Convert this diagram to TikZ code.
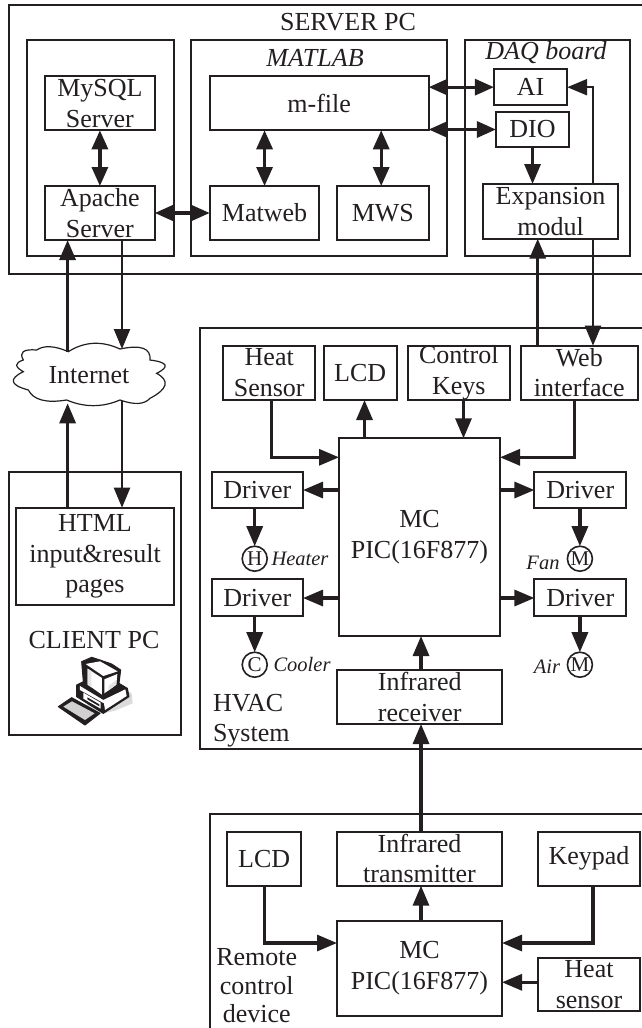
\documentclass[tikz,border=0pt]{standalone}
\usepackage{fontspec}
\setmainfont{Liberation Serif}
\usetikzlibrary{arrows.meta,calc}
\definecolor{ink}{HTML}{231F20}
\tikzset{
  frame/.style={draw=ink,line width=2pt},
  box/.style={draw=ink,line width=2pt,fill=white,rectangle,inner sep=0pt,outer sep=0pt,align=center,text=ink,
     font=\fontsize{26}{30.5}\selectfont},
  lbl/.style={inner sep=0pt,outer sep=0pt,align=center,text=ink,font=\fontsize{26}{30.5}\selectfont},
  ital/.style={inner sep=0pt,outer sep=0pt,text=ink,font=\fontsize{20.5}{24}\selectfont\itshape},
  ital2/.style={inner sep=0pt,outer sep=0pt,text=ink,font=\fontsize{26}{30}\selectfont\itshape},
  actor/.style={draw=ink,line width=1.6pt,fill=white,circle,inner sep=0pt,outer sep=0pt,minimum size=25pt,text=ink,
     font=\fontsize{21}{24}\selectfont},
  arr/.style={draw=ink,line width=3.2pt,-{Triangle[length=20pt,width=16pt]}},
  arrthin/.style={draw=ink,line width=2.4pt,-{Triangle[length=20pt,width=16pt]}},
  dbl/.style={draw=ink,line width=3.2pt,{Triangle[length=19pt,width=16pt]}-{Triangle[length=19pt,width=16pt]}},
}
\newcommand{\bx}[6]{%
  \pgfmathsetmacro{\bxw}{#4-#2}\pgfmathsetmacro{\bxh}{#5-#3}%
  \pgfmathsetmacro{\bxx}{(#4+#2)/2}\pgfmathsetmacro{\bxy}{(#5+#3)/2}%
  \node[box,minimum width=\bxw pt,minimum height=\bxh pt] (#1) at (\bxx,\bxy) {#6};}
\newcommand{\lobe}[3]{.. controls ($(#1)!0.6667!(#2)$) and ($(#3)!0.6667!(#2)$) .. (#3)}
\begin{document}
\begin{tikzpicture}[x=1pt,y=-1pt]
\useasboundingbox (0,0) rectangle (642,1028);
% frames
\draw[frame] (642,4.5) -- (8.6,4.5) -- (8.6,274) -- (642,274);
\draw[frame] (26.6,40) rectangle (173.6,256);
\draw[frame] (190.8,40) rectangle (446.8,256);
\draw[frame] (464.8,40) rectangle (629.8,256);
\draw[frame] (642,328.3) -- (199.8,328.3) -- (199.8,749.3) -- (642,749.3);
\draw[frame] (8.6,472) rectangle (180.6,735);
\draw[frame] (642,814) -- (210,814) -- (210,1028);
% titles
\node[lbl] (tserver) at (348,22) {SERVER PC};
\node[ital2] (tmatlab) at (315,58) {MATLAB};
\node[ital2] (tdaq) at (546,53) {DAQ board};
\node[lbl] (tclient) at (94,640) {CLIENT PC};
\node[lbl,align=left,anchor=west] (thvac) at (213,720.5) {HVAC\\System};
\node[lbl,font=\fontsize{26}{28.5}\selectfont] (tremote) at (256.7,986) {Remote\\control\\device};
% server boxes
\bx{mysql}{45}{76.3}{154.8}{130.3}{MySQL\\Server}
\bx{apache}{45}{186}{154.8}{240}{Apache\\Server}
\bx{mfile}{209.7}{76.3}{428.7}{130.3}{m-file}
\bx{matweb}{209.7}{186}{319.4}{240}{Matweb}
\bx{mws}{337}{186}{428.7}{240}{MWS}
\bx{ai}{493.9}{69}{567.2}{105.3}{AI}
\bx{dio}{495.9}{112.3}{569.2}{146.7}{DIO}
\bx{expan}{482.8}{184}{618.4}{238.7}{Expansion\\modul}
% client
\bx{html}{16.4}{507.7}{173.6}{605.3}{HTML\\input\&result\\pages}
% hvac
\bx{heats}{223.2}{345.7}{315.3}{400}{Heat\\Sensor}
\bx{lcda}{323.5}{345.7}{396.8}{400}{LCD}
\bx{keys}{407.5}{345.7}{510.2}{400}{Control\\Keys}
\bx{web}{520.9}{345.7}{637.6}{400}{Web\\interface}
\bx{mca}{339}{438.3}{500}{636}{MC\\PIC(16F877)}
\bx{dl}{211.7}{472}{303}{508}{Driver}
\bx{dlb}{211.7}{579.3}{303}{616.3}{Driver}
\bx{dr}{534.4}{472}{626.1}{508}{Driver}
\bx{drb}{534.4}{579.3}{626.1}{616.3}{Driver}
\bx{irrx}{337.4}{670}{502}{724}{Infrared\\receiver}
\node[actor] (heater) at (254.7,558.7) {H};
\node[actor] (cooler) at (254.7,664.7) {C};
\node[actor] (fan) at (579.9,558.7) {M};
\node[actor] (airm) at (579.9,664.7) {M};
\node[ital] (theater) at (300,559) {Heater};
\node[ital] (tcooler) at (302,664) {Cooler};
\node[ital] (tfan) at (543,562.7) {Fan};
\node[ital] (tair) at (547,667) {Air};
% remote
\bx{lcdb}{227.3}{831.7}{301}{885.7}{LCD}
\bx{irtx}{337}{831.7}{502}{885.7}{Infrared\\transmitter}
\bx{keypad}{538}{831.7}{640}{885.7}{Keypad}
\bx{mcb}{337}{920.7}{502}{1016}{MC\\PIC(16F877)}
\bx{heatb}{538}{958}{640}{1011.3}{Heat\\sensor}
% cloud
\begin{scope}[shift={(0,335)},x=0.3333pt,y=-0.3333pt]
\draw[draw=ink,line width=1.2pt,fill=white] (110,45)
  \lobe{110,45}{143,23}{205,50}
  \lobe{205,50}{278,4}{360,42}
  \lobe{360,42}{455,22}{450,75}
  \lobe{450,75}{530,85}{470,115}
  \lobe{470,115}{530,148}{450,190}
  \lobe{450,190}{425,218}{360,195}
  \lobe{360,195}{280,229}{200,195}
  \lobe{200,195}{108,210}{85,165}
  \lobe{85,165}{3,143}{70,110}
  \lobe{70,110}{30,88}{70,75}
  \lobe{70,75}{50,40}{110,45} -- cycle;
\end{scope}
\node[lbl] (internet) at (89,375) {Internet};
% free-end coordinates
\coordinate (xup) at (67.6,0);
\coordinate (xdn) at (122,0);
\coordinate (cloudtopa) at (0,351.7);
\coordinate (cloudtopb) at (0,349);
\coordinate (cloudbota) at (0,403.3);
\coordinate (cloudbotb) at (0,400.7);
\coordinate (xwup) at (537.7,0);
\coordinate (xwdn) at (593,0);
\coordinate (bendai) at (593,87.2);
\coordinate (yhv) at (0,457.3);
\coordinate (xhs) at (271.5,0);
\coordinate (xwb) at (574.5,0);
\coordinate (xlcd) at (364.5,0);
\coordinate (xkey) at (463.5,0);
\coordinate (yd1) at (0,490);
\coordinate (yd2) at (0,598);
\coordinate (xir) at (421,0);
\coordinate (yrm) at (0,943);
\coordinate (yhb) at (0,982.3);
\coordinate (xkp) at (593,0);
\coordinate (xmws) at (381.2,0);
% server connectors
\draw[dbl] (mysql.south) -- (apache.north);
\draw[dbl] (apache.east) -- (matweb.west);
\draw[dbl] (mfile.south -| matweb.north) -- (matweb.north);
\draw[dbl] (mfile.south -| xmws) -- (mws.north -| xmws);
\draw[dbl] (mfile.east |- ai.west) -- (ai.west);
\draw[dbl] (mfile.east |- dio.west) -- (dio.west);
\draw[arr] (dio.south) -- (dio.south |- expan.north);
\draw[arrthin] (expan.north -| bendai) -- (bendai) -- (bendai -| ai.east);
% internet
\draw[arr] (html.north -| xup) -- (cloudbota -| xup);
\draw[arr] (cloudtopa -| xup) -- (apache.south -| xup);
\draw[arrthin] (apache.south -| xdn) -- (cloudtopb -| xdn);
\draw[arrthin] (cloudbotb -| xdn) -- (html.north -| xdn);
% web <-> expansion
\draw[arr] (web.north -| xwup) -- (expan.south -| xwup);
\draw[arrthin] (expan.south -| xwdn) -- (web.north -| xwdn);
% hvac
\draw[arr] (heats.south -| xhs) -- (yhv -| xhs) -- (yhv -| mca.west);
\draw[arr] (mca.north -| xlcd) -- (lcda.south -| xlcd);
\draw[arr] (keys.south -| xkey) -- (mca.north -| xkey);
\draw[arr] (web.south -| xwb) -- (yhv -| xwb) -- (yhv -| mca.east);
\draw[arr] (yd1 -| mca.west) -- (yd1 -| dl.east);
\draw[arr] (yd1 -| mca.east) -- (yd1 -| dr.west);
\draw[arr] (yd2 -| mca.west) -- (yd2 -| dlb.east);
\draw[arr] (yd2 -| mca.east) -- (yd2 -| drb.west);
\draw[arr] (dl.south -| heater) -- (heater.north);
\draw[arr] (dlb.south -| cooler) -- (cooler.north);
\draw[arr] (dr.south -| fan) -- (fan.north);
\draw[arr] (drb.south -| airm) -- (airm.north);
\draw[arr] (irrx.north -| xir) -- (mca.south -| xir);
\draw[arr] (irtx.north -| xir) -- (irrx.south -| xir);
% remote
\draw[arr] (lcdb.south) -- (yrm -| lcdb.south) -- (yrm -| mcb.west);
\draw[arr] (keypad.south -| xkp) -- (yrm -| xkp) -- (yrm -| mcb.east);
\draw[arr] (yhb -| heatb.west) -- (yhb -| mcb.east);
\draw[arr] (mcb.north -| xir) -- (irtx.south -| xir);
% computer icon
\begin{scope}[shift={(50,650)},x=0.3333pt,y=-0.3333pt]
\fill[black!14] (130,85) -- (185,95) -- (245,130) -- (248,160) -- (195,182) -- (150,192) -- (110,170) -- cycle;
\fill[ink,draw=ink,line width=1pt,line join=round] (95,35) -- (125,22) -- (150,30) -- (185,42) -- (212,60) -- (207,100) -- (232,115) -- (237,140) -- (160,190) -- (80,140) -- (80,105) -- (100,95) -- cycle;
\fill[white] (107,42) -- (150,34) -- (203,64) -- (160,78) -- cycle;
\fill[white] (113,56) -- (156,84) -- (156,134) -- (113,104) -- cycle;
\fill[black!10] (113,56) -- (124,63) -- (124,112) -- (113,104) -- cycle;
\fill[white] (163,88) -- (202,72) -- (199,104) -- (163,130) -- cycle;
\fill[black!10] (175,108) -- (199,90) -- (199,104) -- (175,122) -- cycle;
\fill[white] (90,108) -- (160,150) -- (226,118) -- (230,138) -- (165,180) -- (162,160) -- (90,120) -- cycle;
\fill[white] (100,128) -- (152,158) -- (152,176) -- (100,146) -- cycle;
\fill[ink] (112,142) -- (148,163) -- (148,169) -- (112,148) -- cycle;
\fill[ink,draw=ink,line width=1pt,line join=round] (25,170) -- (65,143) -- (150,190) -- (105,225) -- cycle;
\fill[black!18] (40,170) -- (66,154) -- (134,190) -- (105,210) -- cycle;
\end{scope}
\end{tikzpicture}
\end{document}
